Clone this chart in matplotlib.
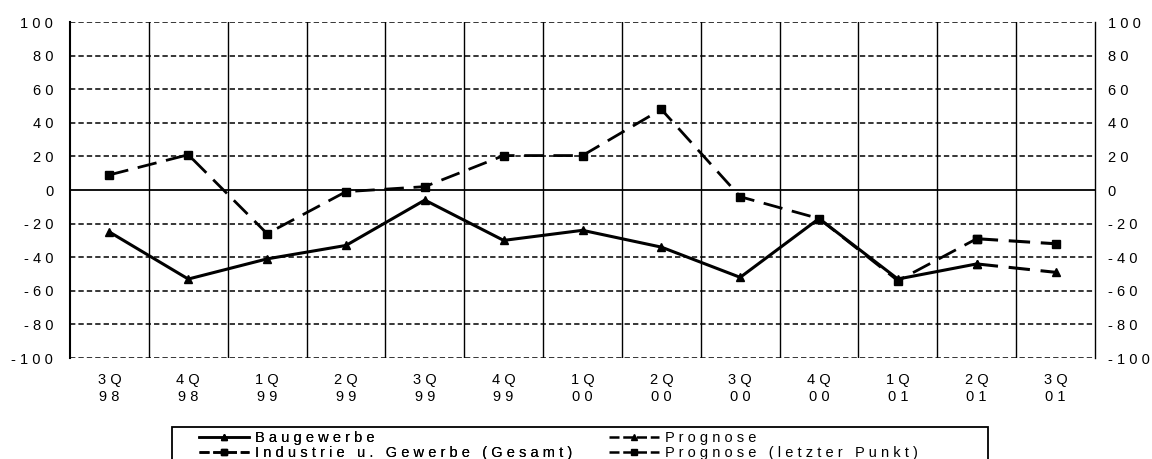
import numpy as np
import matplotlib.pyplot as plt
from matplotlib.lines import Line2D
from matplotlib.patches import Rectangle
from matplotlib.transforms import ScaledTranslation

plt.rcParams['font.family'] = ['Liberation Sans', 'DejaVu Sans']

# data
quarters = ['3Q\n98', '4Q\n98', '1Q\n99', '2Q\n99', '3Q\n99', '4Q\n99', '1Q\n00',
            '2Q\n00', '3Q\n00', '4Q\n00', '1Q\n01', '2Q\n01', '3Q\n01']
baugewerbe = [-25, -53, -41, -33, -6, -30, -24, -34, -52, -17, -53, -44]
prognose_bau = [-44, -49]
industrie = [9, 21, -26, -1, 2, 20.5, 20.5, 48, -4, -17, -54, -29]
prognose_ind = [-29, -32]
yticks = [100, 80, 60, 40, 20, 0, -20, -40, -60, -80, -100]


def spaced(s):
    # the original labels are letter-spaced
    return ' '.join(s)


W, H = 1152, 459
fig = plt.figure(figsize=(W / 100, H / 100), dpi=100)
ax = fig.add_axes([70 / W, 1 - 358 / H, 1025 / W, 336 / H])

x = np.arange(len(quarters))

# grid: dashed horizontals, solid zero line, solid verticals between quarters
for v in yticks:
    if v == 0:
        ax.axhline(v, color='black', lw=1.3, zorder=1)
    else:
        ax.axhline(v, color='black', lw=1.1, ls=(0, (3.5, 2)), zorder=1)
for b in np.arange(0.5, len(quarters) - 1, 1):
    ax.axvline(b, color='black', lw=1.0, zorder=1)

# series
dash = (0, (7, 3.5))
ax.plot(x[:len(baugewerbe)], baugewerbe, color='black', lw=2.2, marker='^', ms=6, zorder=3)
ax.plot(x[-2:], prognose_bau, color='black', lw=2.2, ls=dash, marker='^', ms=6, zorder=3)
ax.plot(x[:len(industrie)], industrie, color='black', lw=2.0, ls=dash, marker='s', ms=5.5, zorder=3)
ax.plot(x[-2:], prognose_ind, color='black', lw=2.2, ls=dash, marker='s', ms=5.5, zorder=3)

ax.set_xlim(-0.5, len(quarters) - 0.5)
ax.set_ylim(-100, 100)
ax.set_xticks(x)
ax.set_xticklabels([spaced(q.split('\n')[0]) + '\n' + spaced(q.split('\n')[1]) for q in quarters],
                   fontsize=10.5, linespacing=1.25)
ax.set_yticks(yticks)
ax.set_yticklabels([spaced(str(v)) for v in yticks], fontsize=10.5)
ax.tick_params(axis='both', length=0)
ax.tick_params(axis='x', pad=11)
ax.tick_params(axis='y', pad=12, labelright=True)

# right-hand labels sit a bit closer to the frame so "-100" fits
for t in ax.yaxis.get_major_ticks():
    t.label2.set_transform(t.label2.get_transform() + ScaledTranslation(-3 / 72, 0, fig.dpi_scale_trans))

for s in ['top', 'bottom']:
    ax.spines[s].set_visible(False)
ax.spines['left'].set_linewidth(1.5)
ax.spines['right'].set_linewidth(1.0)

# legend (box runs off the bottom edge, as in the scan)
fig.patches.append(Rectangle((172 / W, -0.05), (988 - 172) / W, 0.05 + 1 - 427 / H,
                             transform=fig.transFigure, fill=False, ec='black', lw=1.3))
h_bau = Line2D([], [], color='black', lw=1.8, marker='^', ms=5)
h_ind = Line2D([], [], color='black', lw=1.8, ls=(0, (4, 1.5)), marker='s', ms=5)
h_pb = Line2D([], [], color='black', lw=1.8, ls=(0, (4, 1.5)), marker='^', ms=5)
h_pi = Line2D([], [], color='black', lw=1.8, ls=(0, (4, 1.5)), marker='s', ms=5)
common = dict(loc='upper left', fontsize=10.5, frameon=False, handlelength=3.4,
              handletextpad=0.45, borderpad=0, labelspacing=0.05, borderaxespad=0)
leg1 = fig.legend([h_bau, h_ind], [spaced('Baugewerbe'), spaced('Industrie u. Gewerbe (Gesamt)')],
                  bbox_to_anchor=(199 / W, 1 - 431 / H), **common)
fig.add_artist(leg1)
fig.legend([h_pb, h_pi], [spaced('Prognose'), spaced('Prognose (letzter Punkt)')],
           bbox_to_anchor=(609 / W, 1 - 431 / H), **common)

fig.savefig('out.png', dpi=100)
